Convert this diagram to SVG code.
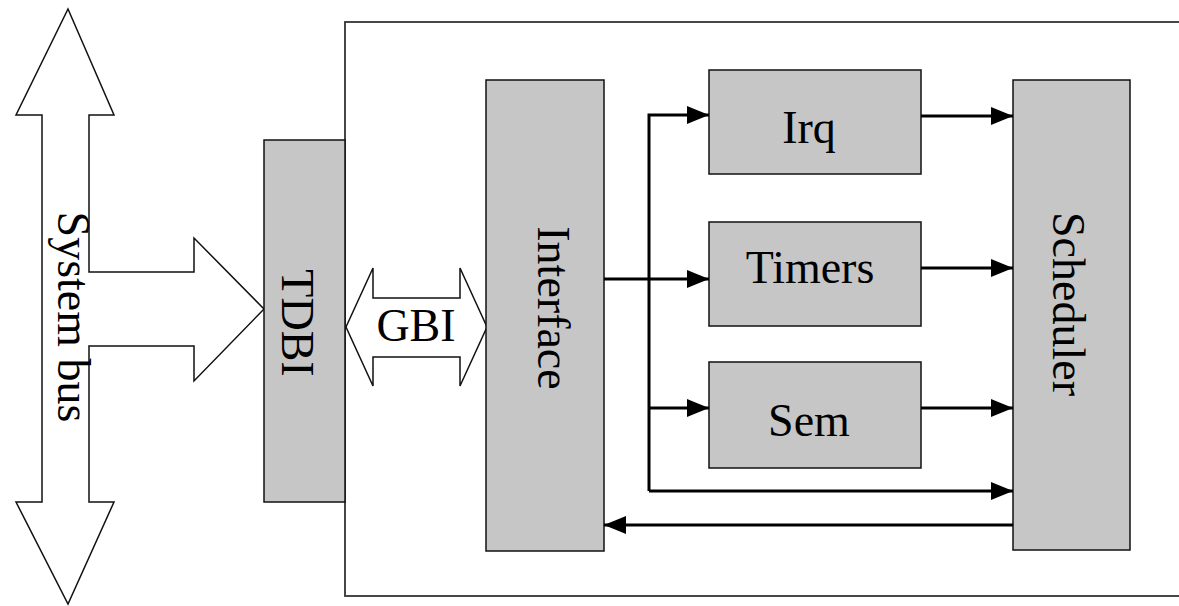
<svg xmlns="http://www.w3.org/2000/svg" width="1179" height="606" viewBox="0 0 1179 606">
  <style>
    .box { fill: #c6c6c6; stroke: #111; stroke-width: 1.5; }
    .bus { fill: #fff; stroke: #111; stroke-width: 1.5; stroke-linejoin: miter; }
    .frame { fill: none; stroke: #333; stroke-width: 1.8; }
    .lbl { font-family: "Liberation Serif", "Times New Roman", serif; font-size: 46px; fill: #000; text-anchor: middle; }
    .wire { fill: none; stroke: #000; stroke-width: 3; }
    .arrow { marker-end: url(#head); }
  </style>
  <defs>
    <marker id="head" markerUnits="userSpaceOnUse" markerWidth="22" markerHeight="18" refX="22" refY="9" orient="auto">
      <path d="M0,0 L22,9 L0,18 Z" fill="#000"/>
    </marker>
  </defs>

  <rect width="1179" height="606" fill="#fff"/>

  <!-- enclosing block frame (open to the right) -->
  <rect class="frame" x="345" y="22" width="900" height="574"/>

  <g id="system-bus">
    <polygon class="bus" points="68,9 114,115 89,115 89,272 194,272 194,238 264,309 194,381 194,346 89,346 89,502 114,502 68,604 16,502 42,502 42,115 16,115"/>
    <text class="lbl" transform="translate(58,317) rotate(90)">System bus</text>
  </g>

  <g id="tdbi">
    <rect class="box" x="264" y="140" width="81" height="362"/>
    <text class="lbl" transform="translate(282,323) rotate(90)">TDBI</text>
  </g>

  <g id="gbi">
    <polygon class="bus" points="346,327 373,268 373,298 460,298 460,268 487,327 460,386 460,357 373,357 373,386"/>
    <text class="lbl" x="416" y="341">GBI</text>
  </g>

  <g id="interface">
    <rect class="box" x="486" y="80" width="118" height="471"/>
    <text class="lbl" transform="translate(538,308) rotate(90)">Interface</text>
  </g>

  <g id="irq">
    <rect class="box" x="709" y="70" width="212" height="104"/>
    <text class="lbl" x="809" y="143">Irq</text>
  </g>

  <g id="timers">
    <rect class="box" x="709" y="222" width="212" height="104"/>
    <text class="lbl" x="810" y="283">Timers</text>
  </g>

  <g id="sem">
    <rect class="box" x="709" y="362" width="212" height="106"/>
    <text class="lbl" x="809" y="436">Sem</text>
  </g>

  <g id="scheduler">
    <rect class="box" x="1013" y="80" width="117" height="470"/>
    <text class="lbl" transform="translate(1053,304) rotate(90)">Scheduler</text>
  </g>

  <g id="connectors">
    <path class="wire arrow" d="M604,279 H709"/>
    <path class="wire arrow" d="M649,491 V115 H709"/>
    <path class="wire arrow" d="M649,408 H709"/>
    <path class="wire arrow" d="M649,491 H1013"/>
    <path class="wire arrow" d="M921,116 H1013"/>
    <path class="wire arrow" d="M921,268 H1013"/>
    <path class="wire arrow" d="M921,408 H1013"/>
    <path class="wire arrow" d="M1013,525 H604"/>
  </g>
</svg>
